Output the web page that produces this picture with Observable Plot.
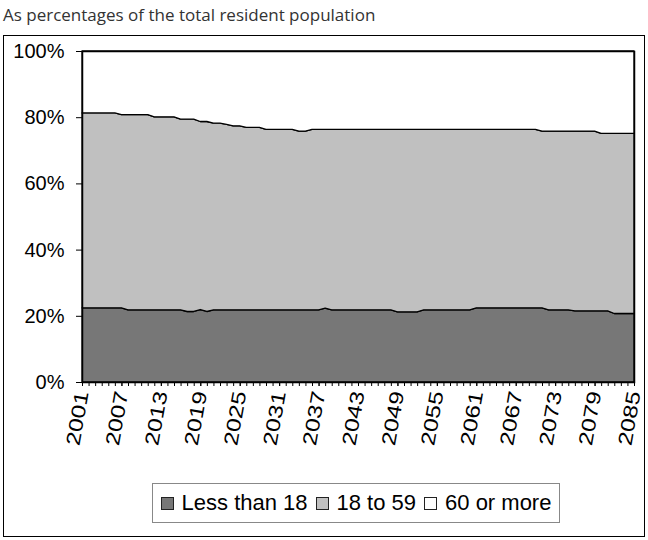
<!DOCTYPE html>
<html>
<head>
<meta charset="utf-8">
<script src="https://cdn.jsdelivr.net/npm/d3@7"></script>
<script src="https://cdn.jsdelivr.net/npm/@observablehq/plot@0.6"></script>
<style>
  body { margin: 0; background: #fff; }
  #page { position: relative; width: 648px; height: 540px; background: #fff; overflow: hidden; }
  #subtitle { position: absolute; left: 3px; top: 3px; font-family: "Open Sans", sans-serif; font-size: 17px; color: #333; white-space: nowrap; }
  #frame { position: absolute; left: 3px; top: 35px; width: 640px; height: 500px; border: 1px solid #000; }
  #chart { position: absolute; left: 0; top: 0; }
  #chart svg { overflow: visible; }
  #legend { position: absolute; left: 148px; top: 447px; width: 406px; height: 38px; border: 1px solid #888;
            display: flex; align-items: center; justify-content: center;
            font-family: "Liberation Sans", Arial, sans-serif; font-size: 22px; color: #000; white-space: nowrap; }
  .item { display: flex; align-items: center; margin: 0 4px; }
  .sw { display: inline-block; width: 11px; height: 11px; border: 1px solid #222; margin-right: 8px; }
</style>
</head>
<body>
<div id="page">
  <div id="subtitle">As percentages of the total resident population</div>
  <div id="frame">
    <div id="chart"></div>
    <div id="legend"></div>
  </div>
</div>
<script>
// Age groups, share of the resident population (%), one value per year 2001–2085
const years = d3.range(2001, 2086);
const groups = ["Less than 18", "18 to 59", "60 or more"];
const groupColors = ["#777777", "#c0c0c0", "#ffffff"];
const xTickYears = [2001, 2007, 2013, 2019, 2025, 2031, 2037, 2043, 2049, 2055, 2061, 2067, 2073, 2079, 2085];
const yTicks = [0, 20, 40, 60, 80, 100];

const under18 = [
  22.4, 22.4, 22.4, 22.4, 22.4, 22.4, 22.4,                 // 2001–2007
  21.8, 21.8, 21.8, 21.8, 21.8, 21.8, 21.8, 21.8, 21.8,     // 2008–2016
  21.3, 21.3, 21.9, 21.3,                                   // 2017–2020
  21.8, 21.8, 21.8, 21.8, 21.8, 21.8, 21.8, 21.8, 21.8, 21.8,
  21.8, 21.8, 21.8, 21.8, 21.8, 21.8, 21.8,                 // 2021–2037
  22.3,                                                     // 2038
  21.8, 21.8, 21.8, 21.8, 21.8, 21.8, 21.8, 21.8, 21.8, 21.8, // 2039–2048
  21.2, 21.2, 21.2, 21.2,                                   // 2049–2052
  21.8, 21.8, 21.8, 21.8, 21.8, 21.8, 21.8, 21.8,           // 2053–2060
  22.4, 22.4, 22.4, 22.4, 22.4, 22.4, 22.4, 22.4, 22.4, 22.4, 22.4, // 2061–2071
  21.8, 21.8, 21.8, 21.8,                                   // 2072–2075
  21.5, 21.5, 21.5, 21.5, 21.5, 21.5,                       // 2076–2081
  20.7, 20.7, 20.7, 20.7                                    // 2082–2085
];

const age18to59 = [
  58.9, 58.9, 58.9, 58.9, 58.9, 58.9,                       // 2001–2006
  58.4,                                                     // 2007
  59.0, 59.0, 59.0, 59.0,                                   // 2008–2011
  58.3, 58.3, 58.3, 58.3,                                   // 2012–2015
  57.6, 58.1, 58.1, 56.8, 57.4,                             // 2016–2020
  56.4, 56.4, 56.0, 55.6, 55.6,                             // 2021–2025
  55.1, 55.1, 55.1,                                         // 2026–2028
  54.5, 54.5, 54.5, 54.5, 54.5,                             // 2029–2033
  54.0, 54.0, 54.5, 54.5, 54.0,                             // 2034–2038
  54.5, 54.5, 54.5, 54.5, 54.5, 54.5, 54.5, 54.5, 54.5, 54.5, // 2039–2048
  55.1, 55.1, 55.1, 55.1,                                   // 2049–2052
  54.5, 54.5, 54.5, 54.5, 54.5, 54.5, 54.5, 54.5,           // 2053–2060
  53.9, 53.9, 53.9, 53.9, 53.9, 53.9, 53.9, 53.9, 53.9, 53.9, // 2061–2070
  53.4,                                                     // 2071
  54.0, 54.0, 54.0, 54.0,                                   // 2072–2075
  54.3, 54.3, 54.3, 54.3,                                   // 2076–2079
  53.6, 53.6,                                               // 2080–2081
  54.4, 54.4, 54.4, 54.4                                    // 2082–2085
];

const age60plus = [
  18.7, 18.7, 18.7, 18.7, 18.7, 18.7,                       // 2001–2006
  19.2, 19.2, 19.2, 19.2, 19.2,                             // 2007–2011
  19.9, 19.9, 19.9, 19.9,                                   // 2012–2015
  20.6, 20.6, 20.6,                                         // 2016–2018
  21.3, 21.3, 21.8, 21.8, 22.2, 22.6, 22.6,                 // 2019–2025
  23.1, 23.1, 23.1,                                         // 2026–2028
  23.7, 23.7, 23.7, 23.7, 23.7,                             // 2029–2033
  24.2, 24.2,                                               // 2034–2035
  23.7, 23.7, 23.7, 23.7, 23.7, 23.7, 23.7, 23.7, 23.7, 23.7,
  23.7, 23.7, 23.7, 23.7, 23.7, 23.7, 23.7, 23.7, 23.7, 23.7,
  23.7, 23.7, 23.7, 23.7, 23.7, 23.7, 23.7, 23.7, 23.7, 23.7,
  23.7, 23.7, 23.7, 23.7, 23.7,                             // 2036–2070
  24.2, 24.2, 24.2, 24.2, 24.2, 24.2, 24.2, 24.2, 24.2,     // 2071–2079
  24.9, 24.9, 24.9, 24.9, 24.9, 24.9                        // 2080–2085
];

// Long table in stacking order (bottom to top)
const series = [under18, age18to59, age60plus];
const rows = [];
groups.forEach((g, gi) => {
  years.forEach((yr, i) => rows.push({ year: yr, group: g, value: series[gi][i] }));
});

const chart = Plot.plot({
  width: 640,
  height: 440,
  marginLeft: 78,
  marginRight: 10,
  marginTop: 15,
  marginBottom: 94,
  style: { fontFamily: "'Liberation Sans', Arial, sans-serif", fontSize: "20px", color: "#000", background: "transparent" },
  x: { domain: [2001, 2085] },
  y: { domain: [0, 100] },
  color: { domain: groups, range: groupColors },
  marks: [
    Plot.areaY(rows, {
      x: "year", y: "value", fill: "group", z: "group", order: groups,
      stroke: "#000", strokeWidth: 1.3, strokeLinejoin: "round"
    }),
    Plot.frame({ stroke: "#000", strokeWidth: 1.5 }),
    Plot.axisY({ ticks: yTicks, tickFormat: d => d + "%", tickSize: 6, tickPadding: 12, label: null, stroke: "#000" }),
    Plot.axisX({ ticks: years, tickSize: 4, tickFormat: () => "", label: null }),
    Plot.axisX({ ticks: xTickYears, tickSize: 4, tickPadding: 5, tickRotate: -80, fontSize: 22,
                 tickFormat: d => String(d), label: null, className: "year-labels" })
  ]
});
document.getElementById("chart").appendChild(chart);

// Year labels: slightly elongated, narrow glyphs along the reading direction
d3.select(chart).selectAll("g[aria-label='x-axis tick label'] text").each(function () {
  const t = this.getAttribute("transform") || "";
  this.setAttribute("transform", t + " scale(1.12,0.9)");
});

// Legend inside the chart border
const legend = d3.select("#legend");
groups.forEach((g, i) => {
  const item = legend.append("div").attr("class", "item");
  item.append("span").attr("class", "sw").style("background", groupColors[i]);
  item.append("span").text(g);
});
</script>
</body>
</html>
